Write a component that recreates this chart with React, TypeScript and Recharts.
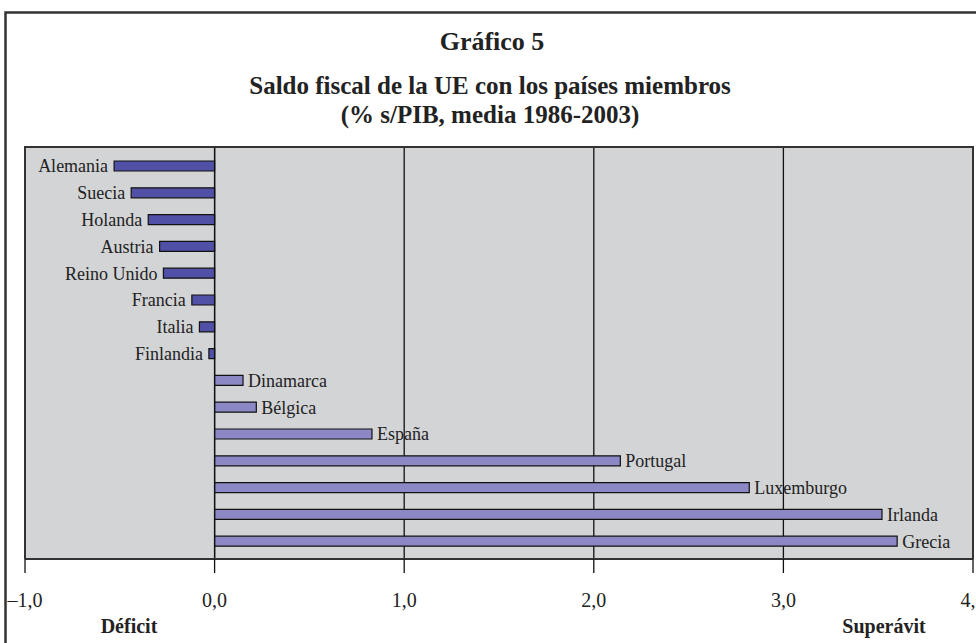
import React from "react";
import {
  BarChart,
  Bar,
  XAxis,
  YAxis,
  CartesianGrid,
  ReferenceLine,
  Cell,
  LabelList,
} from "recharts";

const countries = [
  "Alemania",
  "Suecia",
  "Holanda",
  "Austria",
  "Reino Unido",
  "Francia",
  "Italia",
  "Finlandia",
  "Dinamarca",
  "Bélgica",
  "España",
  "Portugal",
  "Luxemburgo",
  "Irlanda",
  "Grecia",
];

const saldo = [
  -0.53, -0.44, -0.35, -0.29, -0.27, -0.12, -0.08, -0.03, 0.15, 0.22, 0.83,
  2.14, 2.82, 3.52, 3.6,
];

const xTicks = [-1, 0, 1, 2, 3, 4];

const titleLines = [
  "Gráfico 5",
  "Saldo fiscal de la UE con los países miembros",
  "(% s/PIB, media 1986-2003)",
];

const data = countries.map((name, i) => ({ name, value: saldo[i] }));

const FONT = "'Liberation Serif', 'Times New Roman', serif";
const NEG = "#5050A6";
const POS = "#8C88C6";

const W = 976;
const H = 643;
const M = { top: 147, right: 3, bottom: 0, left: 25 };
const X_AXIS_H = 84;
const PLOT_L = M.left;
const PLOT_R = W - M.right;
const PLOT_T = M.top;
const PLOT_B = H - M.bottom - X_AXIS_H;

const fmt = (v: number) => {
  const s = Math.abs(v).toFixed(1).replace(".", ",");
  return v < 0 ? "\u2013" + s : s;
};

const BarLabel = (props: any) => {
  const { x, y, width, height, index } = props;
  const d = data[index];
  if (!d) return null;
  const x1 = Number(x);
  const x2 = Number(x) + Number(width);
  const cy = Number(y) + Number(height) / 2;
  const neg = d.value < 0;
  const tx = neg ? Math.min(x1, x2) - 6 : Math.max(x1, x2) + 5;
  return (
    <text
      x={tx}
      y={cy}
      dy="0.35em"
      textAnchor={neg ? "end" : "start"}
      fontFamily={FONT}
      fontSize={18}
      fill="#222"
    >
      {d.name}
    </text>
  );
};

export default function App() {
  return (
    <div
      style={{
        position: "absolute",
        left: 0,
        top: 0,
        width: W,
        height: H,
        background: "#fff",
      }}
    >
      <BarChart
        width={W}
        height={H}
        data={data}
        layout="vertical"
        margin={M}
        barCategoryGap={0}
      >
        <CartesianGrid
          horizontal={false}
          vertical={true}
          fill="#D3D4D6"
          fillOpacity={1}
          stroke="#111"
          strokeWidth={1.3}
        />
        <XAxis
          type="number"
          dataKey="value"
          domain={[-1, 4]}
          ticks={xTicks}
          interval={0}
          allowDataOverflow
          height={X_AXIS_H}
          tickFormatter={fmt}
          tickSize={14}
          tickMargin={20}
          axisLine={{ stroke: "#333", strokeWidth: 2 }}
          tickLine={{ stroke: "#111", strokeWidth: 1.3 }}
          tick={{ fontFamily: FONT, fontSize: 20, fill: "#222" }}
        />
        <YAxis
          type="category"
          dataKey="name"
          hide
          padding={{ top: 6, bottom: 4 }}
        />
        <ReferenceLine x={0} stroke="#111" strokeWidth={1.3} />
        <Bar
          dataKey="value"
          barSize={10}
          stroke="#111"
          strokeWidth={1.2}
          isAnimationActive={false}
        >
          {data.map((d, i) => (
            <Cell key={i} fill={d.value < 0 ? NEG : POS} />
          ))}
          <LabelList dataKey="name" content={BarLabel} />
        </Bar>
      </BarChart>
      <svg
        width={W}
        height={H}
        style={{ position: "absolute", left: 0, top: 0, pointerEvents: "none" }}
      >
        <path
          d={`M ${PLOT_L} ${PLOT_B} L ${PLOT_L} ${PLOT_T} L ${PLOT_R} ${PLOT_T} L ${PLOT_R} ${PLOT_B}`}
          fill="none"
          stroke="#333"
          strokeWidth={2}
        />
        <path
          d="M 5.5 643 L 5.5 12.5 L 976 12.5"
          fill="none"
          stroke="#333"
          strokeWidth={2.5}
        />
        <text
          x={492}
          y={50}
          textAnchor="middle"
          fontFamily={FONT}
          fontWeight="bold"
          fontSize={26}
          fill="#222"
        >
          {titleLines[0]}
        </text>
        <text
          x={490}
          y={94}
          textAnchor="middle"
          fontFamily={FONT}
          fontWeight="bold"
          fontSize={25}
          fill="#222"
        >
          {titleLines[1]}
        </text>
        <text
          x={490}
          y={123}
          textAnchor="middle"
          fontFamily={FONT}
          fontWeight="bold"
          fontSize={25}
          fill="#222"
        >
          {titleLines[2]}
        </text>
        <text
          x={129}
          y={633}
          textAnchor="middle"
          fontFamily={FONT}
          fontWeight="bold"
          fontSize={20}
          fill="#222"
        >
          Déficit
        </text>
        <text
          x={884}
          y={633}
          textAnchor="middle"
          fontFamily={FONT}
          fontWeight="bold"
          fontSize={20}
          fill="#222"
        >
          Superávit
        </text>
      </svg>
    </div>
  );
}
